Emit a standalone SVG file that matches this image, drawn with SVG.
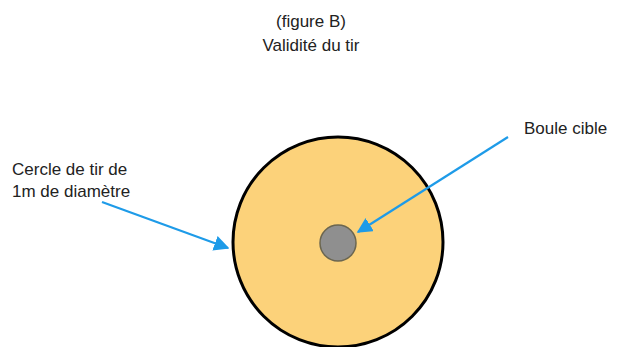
<svg xmlns="http://www.w3.org/2000/svg" width="622" height="347" viewBox="0 0 622 347">
<style>
text{font-family:"Liberation Sans",Arial,sans-serif;font-size:17px;fill:#222}
.c{stroke:#1e9be8;stroke-width:2.2;fill:none}
</style>
<defs>
<marker id="ah" viewBox="0 0 10 10" refX="9" refY="5" markerWidth="7" markerHeight="7" orient="auto" markerUnits="strokeWidth">
<path d="M0,0 L10,5 L0,10 z" fill="#1e9be8"/>
</marker>
</defs>
<rect width="622" height="347" fill="#fff"/>
<g id="title">
<text x="311" y="27" text-anchor="middle">(figure B)</text>
<text x="311" y="51" text-anchor="middle">Validité du tir</text>
</g>
<g id="cercle">
<circle cx="338" cy="242" r="105" fill="#fcd27a" stroke="#000" stroke-width="3"/>
</g>
<g id="boule">
<circle cx="338" cy="243" r="18" fill="#8f8f8f" stroke="#6b6650" stroke-width="1.5"/>
</g>
<g id="label-cercle">
<text x="12" y="175">Cercle de tir de</text>
<text x="12" y="197">1m de diamètre</text>
</g>
<g id="label-boule">
<text x="524" y="134">Boule cible</text>
</g>
<g id="connectors">
<line class="c" x1="102" y1="202" x2="228" y2="248" marker-end="url(#ah)"/>
<line class="c" x1="508" y1="137" x2="358" y2="232" marker-end="url(#ah)"/>
</g>
</svg>
